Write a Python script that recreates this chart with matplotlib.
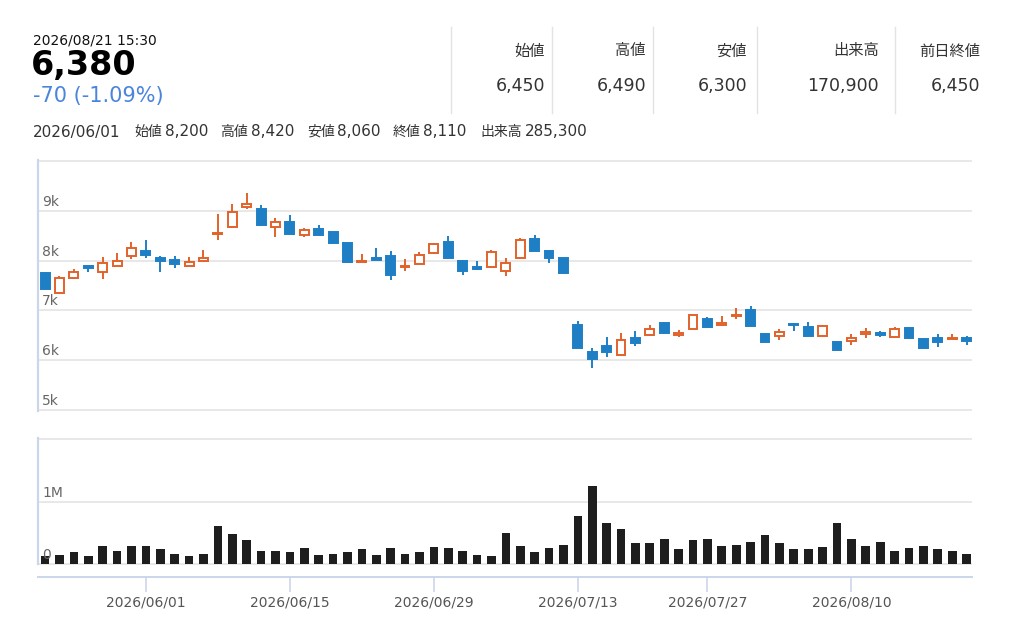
import matplotlib
matplotlib.use('Agg')
import matplotlib.pyplot as plt
from matplotlib.lines import Line2D
from matplotlib.transforms import blended_transform_factory

W, H = 1023, 620

# daily data, 2026/05/21 - 2026/08/21 (trading days only)
dates = [
    '2026/05/21', '2026/05/22', '2026/05/25', '2026/05/26', '2026/05/27', '2026/05/28', '2026/05/29',
    '2026/06/01', '2026/06/02', '2026/06/03', '2026/06/04', '2026/06/05',
    '2026/06/08', '2026/06/09', '2026/06/10', '2026/06/11', '2026/06/12',
    '2026/06/15', '2026/06/16', '2026/06/17', '2026/06/18', '2026/06/19',
    '2026/06/22', '2026/06/23', '2026/06/24', '2026/06/25', '2026/06/26',
    '2026/06/29', '2026/06/30', '2026/07/01', '2026/07/02', '2026/07/03',
    '2026/07/06', '2026/07/07', '2026/07/08', '2026/07/09', '2026/07/10',
    '2026/07/13', '2026/07/14', '2026/07/15', '2026/07/16', '2026/07/17',
    '2026/07/21', '2026/07/22', '2026/07/23', '2026/07/24',
    '2026/07/27', '2026/07/28', '2026/07/29', '2026/07/30', '2026/07/31',
    '2026/08/03', '2026/08/04', '2026/08/05', '2026/08/06', '2026/08/07',
    '2026/08/10', '2026/08/12', '2026/08/13', '2026/08/14',
    '2026/08/17', '2026/08/18', '2026/08/19', '2026/08/20', '2026/08/21',
]
opens = [7750, 7340, 7650, 7890, 7770, 7900, 8090,
         8200, 8050, 8010, 7900, 8000,
         8530, 8670, 9070, 9030, 8670,
         8780, 8510, 8630, 8570, 8350,
         7980, 8050, 8100, 7870, 7940,
         8150, 8380, 8000, 7870, 7870,
         7800, 8060, 8430, 8200, 8050,
         6710, 6160, 6280, 6100, 6440,
         6500, 6740, 6500, 6630,
         6830, 6700, 6890, 7000, 6520,
         6490, 6720, 6670, 6490, 6370,
         6380, 6520, 6540, 6470,
         6650, 6420, 6440, 6420, 6450]
highs = [7770, 7690, 7840, 7920, 8080, 8150, 8380,
         8420, 8100, 8100, 8080, 8210,
         8930, 9140, 9350, 9110, 8850,
         8910, 8650, 8710, 8580, 8360,
         8130, 8260, 8190, 8030, 8170,
         8350, 8490, 8010, 7990, 8220,
         8050, 8450, 8510, 8210, 8060,
         6780, 6240, 6460, 6550, 6580,
         6710, 6770, 6600, 6910,
         6860, 6890, 7050, 7080, 6540,
         6630, 6740, 6760, 6690, 6380,
         6520, 6650, 6590, 6660,
         6660, 6450, 6520, 6530, 6490]
lows = [7420, 7320, 7640, 7770, 7630, 7890, 8040,
        8060, 7780, 7850, 7890, 7990,
        8410, 8660, 9040, 8710, 8470,
        8530, 8470, 8500, 8340, 7960,
        7970, 8010, 7620, 7800, 7920,
        8140, 8040, 7720, 7820, 7860,
        7690, 8030, 8190, 7950, 7740,
        6240, 5840, 6070, 6090, 6280,
        6490, 6520, 6460, 6620,
        6640, 6690, 6820, 6680, 6360,
        6400, 6590, 6480, 6480, 6180,
        6310, 6440, 6460, 6460,
        6430, 6230, 6270, 6410, 6300]
closes = [7430, 7650, 7780, 7850, 7950, 8000, 8250,
          8110, 8000, 7940, 7980, 8050,
          8560, 8980, 9130, 8720, 8780,
          8540, 8610, 8510, 8350, 7970,
          8000, 8020, 7720, 7900, 8120,
          8340, 8050, 7800, 7830, 8180,
          7950, 8420, 8200, 8050, 7750,
          6250, 6020, 6170, 6400, 6350,
          6630, 6540, 6540, 6900,
          6670, 6750, 6910, 6690, 6370,
          6560, 6700, 6490, 6680, 6210,
          6450, 6560, 6500, 6620,
          6440, 6240, 6370, 6450, 6380]
volumes = [132000, 148000, 190000, 128000, 298000, 210000, 298000,
           285300, 240000, 172000, 128000, 172000,
           610000, 488000, 382000, 210000, 210000,
           190000, 255000, 150000, 172000, 190000,
           238000, 150000, 255000, 172000, 190000,
           278000, 255000, 210000, 150000, 128000,
           505000, 294000, 190000, 255000, 316000,
           776000, 1252000, 664000, 571000, 338000,
           338000, 404000, 238000, 382000,
           404000, 294000, 316000, 360000, 466000,
           338000, 238000, 238000, 278000, 653000,
           404000, 294000, 360000, 210000,
           255000, 294000, 238000, 210000, 170900]

tick_dates = ['2026/06/01', '2026/06/15', '2026/06/29', '2026/07/13', '2026/07/27', '2026/08/10']
price_ticks = [5000, 6000, 7000, 8000, 9000, 10000]
price_labels = ['5k', '6k', '7k', '8k', '9k', '']
vol_ticks = [0, 1000000, 2000000]
vol_labels = ['0', '1M', '']

quote_time = '2026/08/21 15:30'
info_date = '2026/06/01'
summary_heads = ['始値', '高値', '安値', '出来高', '前日終値']
info_heads = ['始値', '高値', '安値', '終値', '出来高']

BLUE = '#1f7fc5'
ORANGE = '#e2622a'
GRID = '#e6e6e6'
AXIS = '#ccd6eb'
JP = ['DejaVu Sans', 'Noto Sans CJK JP']


def fx(px):
    return px / W


def fy(py):
    return 1 - py / H


fig = plt.figure(figsize=(W / 100, H / 100), dpi=100)

# ---- header -------------------------------------------------------------
last = len(dates) - 1
prev_close = closes[last - 1]
diff = closes[last] - prev_close
pct = diff / prev_close * 100

fig.text(fx(33), fy(40), quote_time, fontsize=10, color='#111111', va='center')
fig.text(fx(31), fy(65), f'{closes[last]:,}', fontsize=24, fontweight='bold',
         color='black', va='center')
fig.text(fx(33), fy(96), f'{diff:,} ({pct:.2f}%)', fontsize=15, color='#4a84dc', va='center')

summary_vals = [opens[last], highs[last], lows[last], volumes[last], prev_close]
col_right = [545, 646, 747, 879, 980]
for xr, head, val in zip(col_right, summary_heads, summary_vals):
    fig.text(fx(xr), fy(51), head, fontsize=11, color='#333333', ha='right', va='center',
             family=JP)
    fig.text(fx(xr), fy(86), f'{val:,}', fontsize=12.5, color='#333333', ha='right',
             va='center')
for xl in [451, 552, 653, 757, 895]:
    fig.add_artist(Line2D([fx(xl), fx(xl)], [fy(27), fy(113)], color='#e3e3e3', lw=1))

k = dates.index(info_date)
info_vals = [opens[k], highs[k], lows[k], closes[k], volumes[k]]
fig.text(fx(33), fy(132), info_date, fontsize=11, color='#333333', va='center')
head_x = [134, 220, 307, 393, 480]
val_x = [165, 251, 337, 423, 525]
for xh, xv, head, val in zip(head_x, val_x, info_heads, info_vals):
    fig.text(fx(xh), fy(132), head, fontsize=10, color='#333333', va='center', family=JP)
    fig.text(fx(xv), fy(132), f'{val:,}', fontsize=11, color='#333333', va='center')

# ---- price panel --------------------------------------------------------
xs = list(range(len(dates)))
xlim = (-0.49, len(dates) - 1 + 0.375)

ax = fig.add_axes([fx(38), fy(411), fx(972) - fx(38), fy(160) - fy(411)])
up = [c >= o for o, c in zip(opens, closes)]
edge = [ORANGE if u else BLUE for u in up]
face = ['white' if u else BLUE for u in up]
bottoms = [min(o, c) for o, c in zip(opens, closes)]
heights = [max(abs(c - o), 14) for o, c in zip(opens, closes)]

ax.vlines(xs, lows, highs, colors=edge, lw=1.4, zorder=2)
ax.bar(xs, heights, bottom=bottoms, width=0.62, color=face, edgecolor=edge, lw=1.4, zorder=3)

ax.set_xlim(*xlim)
ax.set_ylim(4985, 10015)
ax.set_yticks(price_ticks)
ax.yaxis.grid(True, color=GRID, lw=1.3)
ax.set_axisbelow(True)
ax.tick_params(left=False, labelleft=False, bottom=False, labelbottom=False)
for side in ['top', 'right', 'bottom']:
    ax.spines[side].set_visible(False)
ax.spines['left'].set_color(AXIS)
ax.spines['left'].set_linewidth(1.6)

tr = blended_transform_factory(ax.transAxes, ax.transData)
for v, lab in zip(price_ticks, price_labels):
    ax.annotate(lab, xy=(0, v), xycoords=tr, xytext=(4, 2), textcoords='offset pixels',
                ha='left', va='bottom', fontsize=10, color='#666666', zorder=5)

# ---- volume panel -------------------------------------------------------
axv = fig.add_axes([fx(38), fy(577), fx(972) - fx(38), fy(438) - fy(577)])
axv.bar(xs, volumes, width=0.6, color='#1e1e1e', zorder=3)
axv.set_xlim(*xlim)
axv.set_ylim(-200000, 2010000)
axv.set_yticks(vol_ticks)
axv.yaxis.grid(True, color=GRID, lw=1.3)
axv.set_axisbelow(True)
axv.tick_params(axis='y', left=False, labelleft=False)
axv.set_xticks([dates.index(d) for d in tick_dates])
axv.set_xticklabels(tick_dates)
axv.tick_params(axis='x', length=11, width=1.2, color=AXIS, labelsize=10,
                labelcolor='#555555', pad=2)
for side in ['top', 'right']:
    axv.spines[side].set_visible(False)
axv.spines['left'].set_color(AXIS)
axv.spines['left'].set_linewidth(1.6)
axv.spines['left'].set_bounds(0, 2010000)
axv.spines['bottom'].set_color(AXIS)
axv.spines['bottom'].set_linewidth(1.4)

trv = blended_transform_factory(axv.transAxes, axv.transData)
for v, lab in zip(vol_ticks, vol_labels):
    axv.annotate(lab, xy=(0, v), xycoords=trv, xytext=(4, 2), textcoords='offset pixels',
                 ha='left', va='bottom', fontsize=10, color='#666666', zorder=5)

fig.savefig('out.png', dpi=100, facecolor='white')
